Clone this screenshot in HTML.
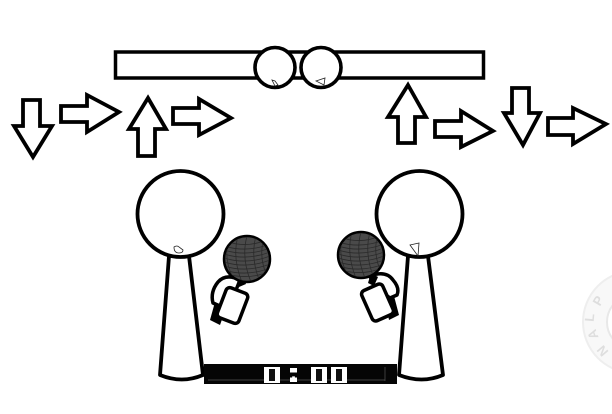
<!DOCTYPE html>
<html>
<head>
<meta charset="utf-8">
<style>
html,body{margin:0;padding:0;background:#fff;width:612px;height:414px;overflow:hidden}
svg{display:block;filter:blur(.35px)}
text{font-family:"Liberation Sans",sans-serif}
</style>
</head>
<body>
<svg width="612" height="414" viewBox="0 0 612 414" xmlns="http://www.w3.org/2000/svg">
<defs>
<clipPath id="m1"><circle cx="247" cy="259" r="22"/></clipPath>
<clipPath id="m2"><circle cx="361" cy="255" r="22"/></clipPath>
</defs>
<rect width="612" height="414" fill="#fff"/>

<!-- watermark -->
<circle cx="634" cy="322" r="51" fill="#f8f8f8" stroke="#eee" stroke-width="2"/>
<circle cx="634" cy="322" r="27" fill="#fff" stroke="#e8e8e8" stroke-width="2"/>
<g fill="#dedede" font-size="13" font-weight="bold" text-anchor="middle">
<text transform="translate(602,303) rotate(-60)">P</text>
<text transform="translate(594,318) rotate(-85)">L</text>
<text transform="translate(597,333) rotate(-110)">A</text>
<text transform="translate(606,348) rotate(-130)">N</text>
</g>

<!-- top bar -->
<rect x="115.500" y="52" width="368" height="26" fill="#fff" stroke="#000" stroke-width="3.500"/>
<circle cx="275" cy="67.500" r="20" fill="#fff" stroke="#000" stroke-width="3.600"/>
<circle cx="321" cy="67.500" r="20" fill="#fff" stroke="#000" stroke-width="3.600"/>
<path d="M272 80l3 1 3 4-3 1z" fill="#fff" stroke="#222" stroke-width=".8"/>
<path d="M316 81l9-3-1 7z" fill="#fff" stroke="#222" stroke-width=".8"/>

<!-- arrows -->
<g fill="#fff" stroke="#000" stroke-width="3.800" stroke-linejoin="miter">
<path d="M23 100H40V126H52L33 157 14 126H23Z"/>
<path d="M61 106H87V95L119 112 87 132V122H61Z"/>
<path d="M148 98L166 129H155V156H138V129H129Z"/>
<path d="M173 108H199V99L231 118 199 135V124H173Z"/>
<path d="M408 85L426 117H415V143H398V117H388Z"/>
<path d="M435 121H461V111L493 131 461 147V137H435Z"/>
<path d="M512 88H529V113H540L523 145 504 113H512Z"/>
<path d="M548 118H573V108L606 124 573 144V135H548Z"/>
</g>

<!-- left figure -->
<path d="M169 256L160 375Q182 384 203 375L189 256Z" fill="#fff" stroke="#000" stroke-width="3.800" stroke-linejoin="round"/>
<circle cx="180.500" cy="214" r="43" fill="#fff" stroke="#000" stroke-width="3.800"/>
<path d="M174 247q3-2 5 0l4 3q0 3-4 3-5 0-5-6z" fill="#fff" stroke="#222" stroke-width=".8"/>

<!-- right figure -->
<path d="M408 256L399 375Q422 384 443 375L428 256Z" fill="#fff" stroke="#000" stroke-width="3.800" stroke-linejoin="round"/>
<circle cx="419.500" cy="214" r="43" fill="#fff" stroke="#000" stroke-width="3.800"/>
<path d="M410 245l9-2-1 13z" fill="#fff" stroke="#222" stroke-width=".8"/>

<!-- left mic -->
<path d="M240 280Q226 273 218 282 210 292 213 303L220 306 236 290Z" fill="#fff" stroke="#000" stroke-width="3.500" stroke-linejoin="round"/>
<path d="M215 302L210 320 220 325 226 308Z" fill="#000"/>
<rect x="221" y="289.500" width="23" height="32" rx="4" transform="rotate(21 232.500 305.500)" fill="#fff" stroke="#000" stroke-width="3.500"/>
<path d="M236 277l3 10 7-3-3-9z" fill="#000"/>
<circle cx="247" cy="259" r="23" fill="#4a4a4a" stroke="#000" stroke-width="2.500"/>
<g clip-path="url(#m1)" fill="none" stroke="#2a2a2a" stroke-width=".8">
<path d="M224 246q23 7 46-2M224 250q23 7 46-2M224 254q23 7 46-2M224 258q23 7 46-2M224 262q23 7 46-2M224 266q23 7 46-2M224 270q23 7 46-2M226 274q23 6 42-2M228 242q20 6 38-2"/>
<path d="M238 236q-6 22 4 46M247 236q-6 22 4 46M256 236q-6 22 4 46M229 238q-6 20 4 40M264 238q-6 20 4 40"/>
</g>

<!-- right mic -->
<path d="M370 276Q386 270 393 280 400 288 397 295L390 298 374 286Z" fill="#fff" stroke="#000" stroke-width="3.500" stroke-linejoin="round"/>
<path d="M394 296L399 315 389 320 385 300Z" fill="#000"/>
<rect x="366" y="286" width="23" height="33" rx="4" transform="rotate(-24 377.500 302.500)" fill="#fff" stroke="#000" stroke-width="3.500"/>
<path d="M371 273l-3 10 6 3 4-9z" fill="#000"/>
<circle cx="361" cy="255" r="23" fill="#4a4a4a" stroke="#000" stroke-width="2.500"/>
<g clip-path="url(#m2)" fill="none" stroke="#2a2a2a" stroke-width=".8">
<path d="M338 242q23 7 46-2M338 246q23 7 46-2M338 250q23 7 46-2M338 254q23 7 46-2M338 258q23 7 46-2M338 262q23 7 46-2M338 266q23 7 46-2M340 270q23 6 42-2M342 238q20 6 38-2"/>
<path d="M352 232q-6 22 4 46M361 232q-6 22 4 46M370 232q-6 22 4 46M343 234q-6 20 4 40M378 234q-6 20 4 40"/>
</g>

<!-- timer -->
<rect x="204" y="364" width="193" height="20" fill="#050505"/>
<path d="M208 380H385M385 367V381" stroke="#555" stroke-width=".7" fill="none"/>
<g fill="#fff">
<rect x="264" y="367" width="16" height="16"/>
<rect x="311" y="367" width="16" height="16"/>
<rect x="331" y="367" width="16" height="16"/>
<rect x="290" y="368" width="7" height="4.500"/>
<rect x="290" y="377.500" width="7" height="4.500"/>
</g>
<g fill="#fff" font-weight="bold" font-size="17" text-anchor="middle">
<text x="272" y="381">0</text>
<text x="293.500" y="379" font-size="19">:</text>
<text x="319" y="381">0</text>
<text x="339" y="381">0</text>
</g>
<g fill="#111">
<rect x="269" y="369" width="6" height="12"/>
<rect x="316" y="369" width="6" height="12"/>
<rect x="336" y="369" width="6" height="12"/>
</g>
</svg>
</body>
</html>
